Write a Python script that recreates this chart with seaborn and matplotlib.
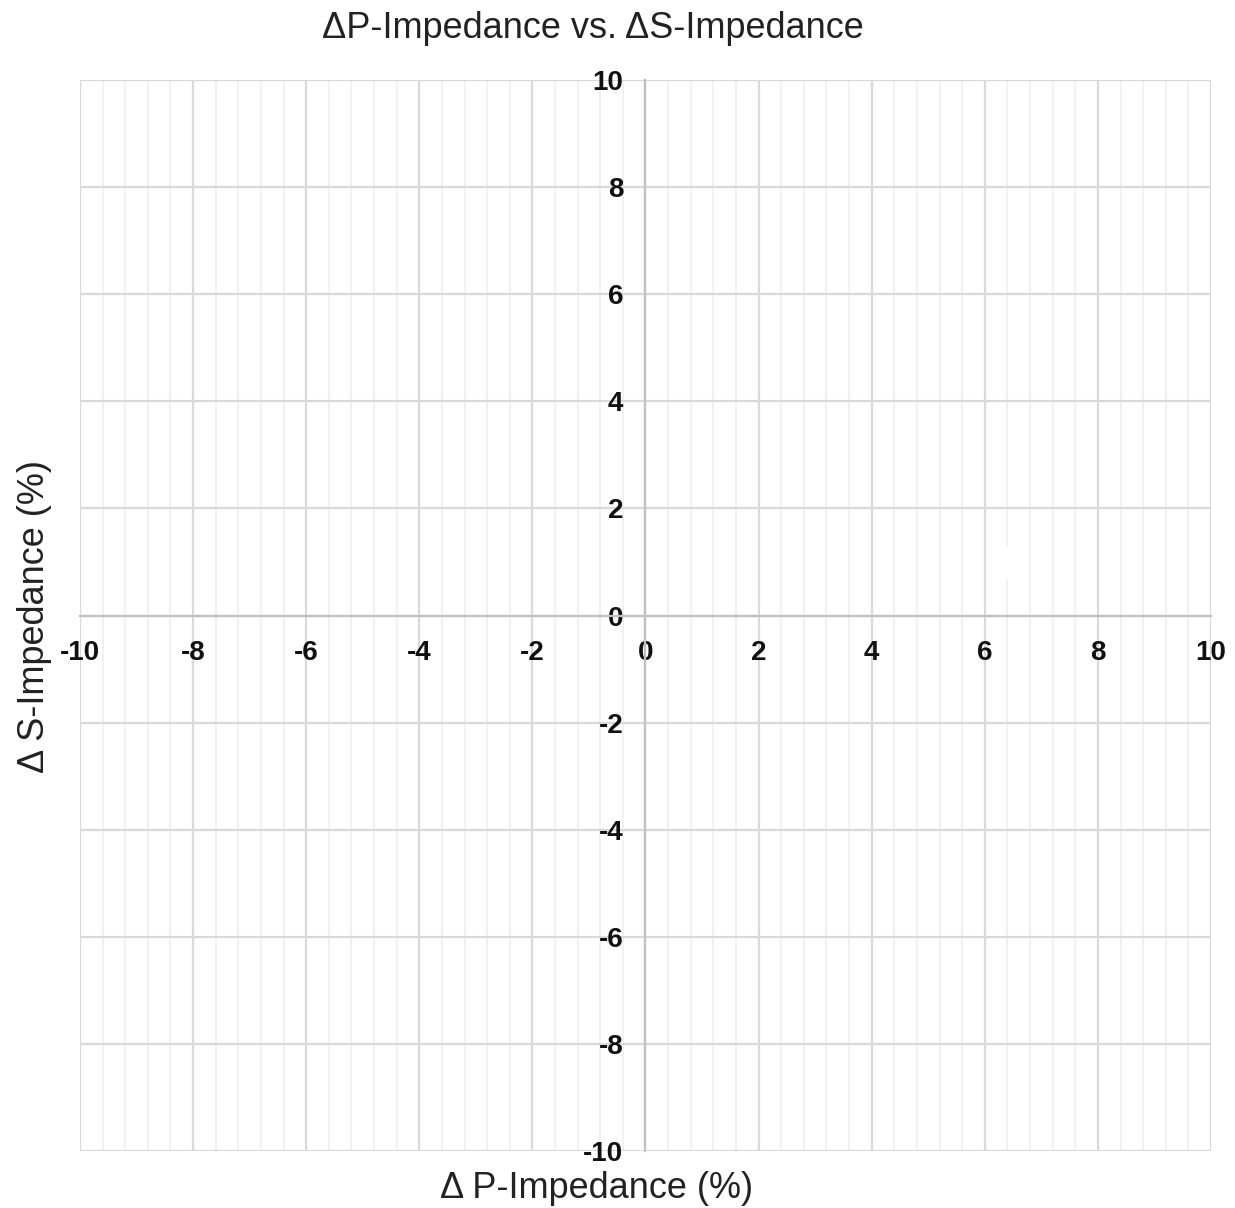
import matplotlib
matplotlib.use("Agg")
import matplotlib.pyplot as plt
from matplotlib.ticker import MultipleLocator
import seaborn as sns
import pandas as pd

# Axis ranges and ticks
x_ticks = [-10, -8, -6, -4, -2, 0, 2, 4, 6, 8, 10]
y_ticks = [-10, -8, -6, -4, -2, 0, 2, 4, 6, 8, 10]

# Single plotted point (white marker)
dp_impedance = [6.4]
ds_impedance = [0.98]

sns.set_theme(style="white")
plt.rcParams["font.family"] = ["Liberation Sans", "DejaVu Sans"]

df = pd.DataFrame({"dP": dp_impedance, "dS": ds_impedance})

fig = plt.figure(figsize=(12.35, 12.08), dpi=100)
ax = fig.add_axes([80 / 1235, 1 - 1151 / 1208, (1211 - 80) / 1235, (1151 - 80) / 1208])

sns.scatterplot(data=df, x="dP", y="dS", marker="s", s=500, color="white",
                edgecolor="none", ax=ax, zorder=5, legend=False)

ax.set_xlim(-10, 10)
ax.set_ylim(-10, 10)
ax.set_xticks(x_ticks)
ax.set_yticks(y_ticks)
ax.set_xticklabels([str(v) for v in x_ticks])
ax.set_yticklabels([str(v) for v in y_ticks])
ax.xaxis.set_minor_locator(MultipleLocator(0.4))

# Grid: light major lines both ways, fainter vertical minor lines
ax.grid(which="major", axis="both", color="#d9d9d9", linewidth=1.6, zorder=0)
ax.grid(which="minor", axis="x", color="#f1f1f1", linewidth=1.4, zorder=0)
ax.set_axisbelow(True)

# Axes crossing at the origin
for side in ["top", "right"]:
    ax.spines[side].set_visible(False)
ax.spines["left"].set_position("zero")
ax.spines["bottom"].set_position("zero")
for side in ["left", "bottom"]:
    ax.spines[side].set_color("#c0c0c0")
    ax.spines[side].set_linewidth(1.6)
    ax.spines[side].set_zorder(1)

ax.tick_params(axis="both", which="both", length=0)
ax.tick_params(axis="x", pad=18)
ax.tick_params(axis="y", pad=16)
for lab in ax.get_xticklabels() + ax.get_yticklabels():
    lab.set_fontsize(20)
    lab.set_fontweight("bold")
    lab.set_color("#111111")

ax.set_xlabel("")
ax.set_ylabel("")

fig.text(593 / 1235, 1 - 28 / 1208, "ΔP-Impedance vs. ΔS-Impedance",
         ha="center", va="center", fontsize=26, color="#222222")
fig.text(597 / 1235, 1 - 1188 / 1208, "Δ P-Impedance (%)",
         ha="center", va="center", fontsize=26, color="#222222")
fig.text(35 / 1235, 1 - 616 / 1208, "Δ S-Impedance (%)",
         ha="center", va="center", rotation=90, fontsize=26, color="#222222")

fig.savefig("out.png", dpi=100, facecolor="white")
